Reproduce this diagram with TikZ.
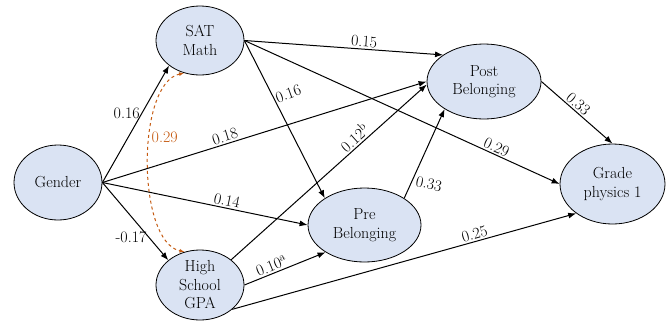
\documentclass[tikz,border=0pt]{standalone}
\usetikzlibrary{shapes.geometric,arrows.meta,calc}
\definecolor{nodefill}{HTML}{DAE3F3}
\definecolor{corr}{HTML}{C55A11}
\begin{document}
\begin{tikzpicture}[x=1pt,y=-1pt,
  var/.style={ellipse, draw, line width=0.8pt, fill=nodefill, inner sep=0pt},
  vtext/.style={align=center, inner sep=0pt, font=\rmfamily\fontsize{16}{18.5}\selectfont},
  arr/.style={-{Latex[length=8pt,width=6pt]}, line width=1pt},
  lbl/.style={font=\rmfamily\fontsize{16}{18}\selectfont, inner sep=1.5pt},
]
\useasboundingbox (0,0) rectangle (666,322);
\node[var, minimum width=88pt, minimum height=75pt, label={[vtext,name=gendert]center:Gender}] (gender) at (58,182.5) {};
\node[var, minimum width=88pt, minimum height=69pt, label={[vtext,name=satt]center:SAT\\Math}] (sat) at (200,40.5) {};
\node[var, minimum width=88pt, minimum height=70pt, label={[vtext,name=hst]center:High\\School\\GPA}] (hs) at (200,285) {};
\node[var, minimum width=113pt, minimum height=74pt, label={[vtext,name=pret]center:Pre\\Belonging}] (pre) at (364.5,225) {};
\node[var, minimum width=114pt, minimum height=75pt, label={[vtext,name=postt]center:Post\\Belonging}] (post) at (484,81.5) {};
\node[var, minimum width=105pt, minimum height=80pt, label={[vtext,name=gradet]center:Grade\\physics 1}] (grade) at (612.5,184) {};

\draw[arr] (gender.east) -- node[lbl, pos=0.59, left] {0.16} (sat.219);
\draw[arr] (gender.east) -- node[lbl, pos=0.7, left] {-0.17} (hs.142);
\draw[arr] (gender.east) -- node[lbl, pos=0.385, sloped, above] {0.18} (post.west);
\draw[arr] (gender.east) -- node[lbl, pos=0.6, sloped, above] {0.14} (pre.west);
\draw[arr] (sat.east) -- node[lbl, pos=0.6, sloped, above] {0.15} (post.147);
\draw[arr] (sat.east) -- node[lbl, pos=0.37, right, rotate=20] {0.16} (pre.146);
\draw[arr] (sat.east) -- node[lbl, pos=0.79, sloped, above] {0.29} (grade.west);
\draw[arr] (hs.39) -- node[lbl, pos=0.66, sloped, above] {0.12\textsuperscript{b}} (post.183);
\draw[arr] (hs.east) -- node[lbl, pos=0.37, sloped, above] {0.10\textsuperscript{a}} (pre.215);
\draw[arr] (hs.-37) -- node[lbl, pos=0.71, sloped, above] {0.25} (grade.219);
\draw[arr] (pre.34) -- node[lbl, pos=0.2, right, rotate=-12, xshift=2pt] {0.33} (post.215);
\draw[arr] (post.east) -- node[lbl, pos=0.45, sloped, above] {0.33} (grade.north);

\draw[corr, dashed, line width=1pt, {Latex[length=5pt,width=4pt]}-{Latex[length=5pt,width=4pt]}]
  (sat.244) .. controls ($(sat.244)+(-48,10)$) and ($(hs.115)+(-48,-10)$) .. node[lbl, pos=0.4, right, text=corr] {0.29} (hs.115);
\end{tikzpicture}
\end{document}
